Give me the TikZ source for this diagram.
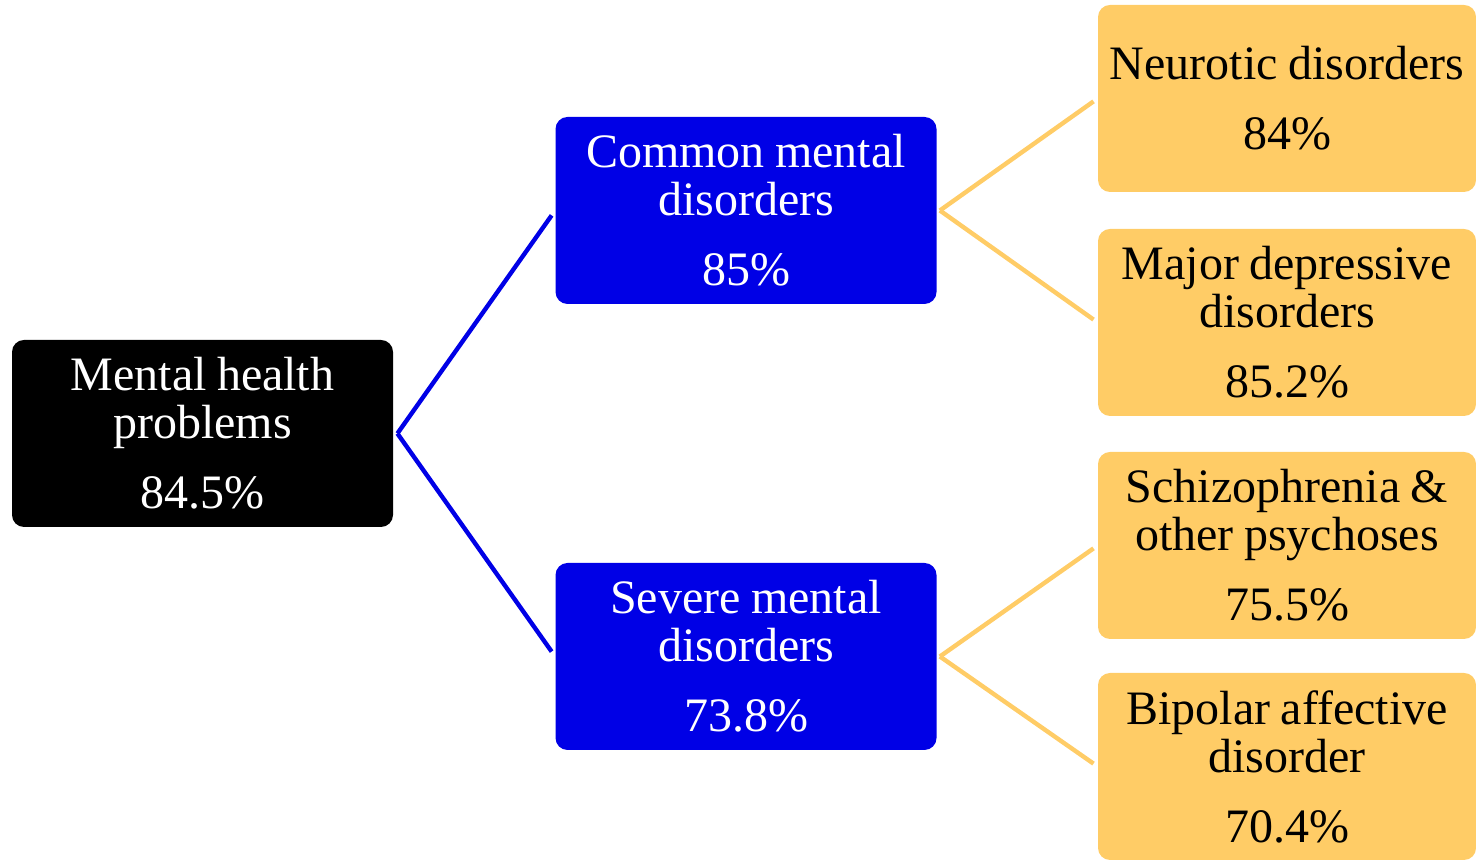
\documentclass[tikz,border=0pt]{standalone}
\usepackage{fontspec}
\setmainfont{Liberation Serif}
\usetikzlibrary{calc}
\definecolor{boxblue}{RGB}{0, 0, 230}
\definecolor{boxorange}{RGB}{255, 204, 102}

\begin{document}
\begin{tikzpicture}[x=1pt, y=1pt,
    box/.style={rounded corners=6pt, minimum width=190.5pt, minimum height=93.5pt, text width=185pt, align=center, inner sep=0pt, font=\fontsize{24}{24}\selectfont, execute at begin node={\spaceskip=5.2pt\relax}},
    rootbox/.style={box, fill=black, text=white},
    midbox/.style={box, fill=boxblue, text=white},
    leafbox/.style={box, fill=boxorange, text=black, minimum width=189pt},
    bluelink/.style={boxblue, line width=2.2pt, shorten >=3pt},
    orangelink/.style={boxorange, line width=2.2pt, shorten >=2.5pt}]

    \useasboundingbox (0,0) rectangle (738,430);

    \node[rootbox] (root) at (101.25,213.25) {Mental health\\problems\\[11pt]84.5\%};
    \node[midbox] (common) at (373,324.75) {Common mental\\disorders\\[11pt]85\%};
    \node[midbox] (severe) at (373,101.75) {Severe mental\\disorders\\[11pt]73.8\%};

    \node[leafbox] (neurotic) at (643.5,380.75) {Neurotic disorders\\[11pt]84\%};
    \node[leafbox] (major) at (643.5,268.75) {Major depressive\\disorders\\[11pt]85.2\%};
    \node[leafbox] (schizo) at (643.5,157.25) {Schizophrenia \&\\other psychoses\\[11pt]75.5\%};
    \node[leafbox] (bipolar) at (643.5,46.75) {Bipolar affective\\disorder\\[11pt]70.4\%};

    % start points of the links, just right of the boxes
    \coordinate (rootout) at ($(root.east)+(2pt,0)$);
    \coordinate (commonout) at ($(common.east)+(1.5pt,0)$);
    \coordinate (severeout) at ($(severe.east)+(1.5pt,0)$);

    \draw[bluelink] (rootout) -- (common.west);
    \draw[bluelink] (rootout) -- (severe.west);
    \draw[orangelink] (commonout) -- (neurotic.west);
    \draw[orangelink] (commonout) -- (major.west);
    \draw[orangelink] (severeout) -- (schizo.west);
    \draw[orangelink] (severeout) -- (bipolar.west);

\end{tikzpicture}
\end{document}
